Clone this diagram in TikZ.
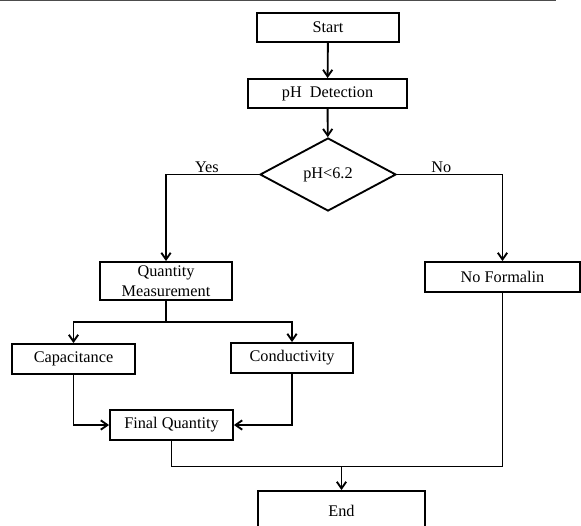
\documentclass[tikz,border=0pt]{standalone}
\usepackage{fontspec}
\setmainfont{Liberation Serif}
\usetikzlibrary{shapes.geometric,arrows.meta}
\begin{document}
\begin{tikzpicture}[x=0.75pt,y=-0.75pt,
    box/.style={draw,line width=1.4pt,inner sep=0pt,align=center,
        font=\fontsize{12.2pt}{14.8pt}\selectfont},
    >={Straight Barb[length=5pt,width=7pt]},
    flow/.style={line width=1.4pt},
    lbl/.style={font=\fontsize{12.2pt}{14.8pt}\selectfont,inner sep=1pt}]
            \useasboundingbox (0,0) rectangle (581,525);
            \draw[gray!60!black,line width=0.9pt] (0,0.6) -- (556,0.6);
            \node[box,minimum width=106.5pt,minimum height=21.75pt] (start) at (328,27.5) {Start};
            \node[box,minimum width=119.25pt,minimum height=21.75pt] (ph) at (327.5,93.5) {pH\ \ Detection};
            \node[box,diamond,minimum width=102pt,minimum height=54.75pt] (dec) at (328,174.5) {pH<6.2};
            \node[box,minimum width=99pt,minimum height=28.5pt] (qm) at (166,281) {Quantity\\Measurement};
            \node[box,minimum width=116.25pt,minimum height=22.5pt] (nof) at (502.5,277) {No Formalin};
            \node[box,minimum width=92.25pt,minimum height=22.5pt] (cap) at (73.5,359) {Capacitance};
            \node[box,minimum width=91.5pt,minimum height=22.5pt] (con) at (292,358) {Conductivity};
            \node[box,minimum width=92.25pt,minimum height=22.5pt] (fq) at (171.5,425) {Final Quantity};
            \node[box,minimum width=125.25pt,minimum height=30pt] (fin) at (341.5,511) {End};
            \coordinate (qmj) at (166,322);
            \coordinate (endj) at (341.5,466.5);
            \draw[flow,->] (start) -- (ph);
            \draw[flow,->] (ph) -- (dec);
            \draw[flow,->] (dec.west) -| (qm) node[lbl,above,pos=0.28]{Yes};
            \draw[flow,->] (dec.east) -| (nof) node[lbl,above,pos=0.21]{No};
            \draw[flow] (qm) -- (qmj);
            \draw[flow,->] (qmj) -| (cap);
            \draw[flow,->] (qmj) -| (con);
            \draw[flow,->] (cap) |- (fq);
            \draw[flow,->] (con) |- (fq);
            \draw[flow] (fq) |- (endj);
            \draw[flow] (nof) |- (endj);
            \draw[flow,->] (endj) -- (fin);
            \end{tikzpicture}
\end{document}
